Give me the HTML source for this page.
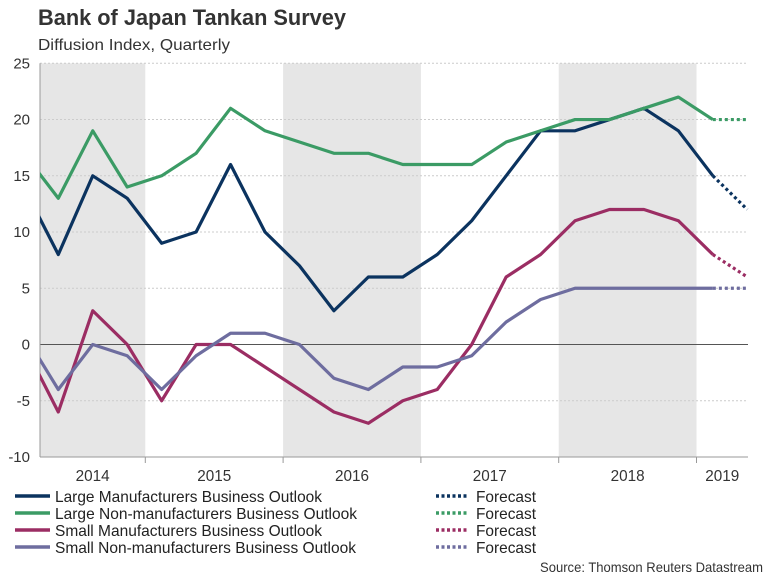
<!DOCTYPE html>
<html><head><meta charset="utf-8"><style>
body{margin:0;background:#fff;font-family:"Liberation Sans",Arial,sans-serif;}
svg text{font-family:"Liberation Sans",Arial,sans-serif;}
</style></head><body>
<svg id="c" width="768" height="576" xmlns="http://www.w3.org/2000/svg">
<text x="38" y="25" font-size="22" font-weight="bold" fill="#333" textLength="308" lengthAdjust="spacingAndGlyphs">Bank of Japan Tankan Survey</text>
<text x="38" y="50" font-size="16" fill="#333" textLength="192" lengthAdjust="spacingAndGlyphs">Diffusion Index, Quarterly</text>
<g id="plot"></g>
<text x="763" y="572" font-size="14" fill="#333" text-anchor="end" textLength="223" lengthAdjust="spacingAndGlyphs">Source: Thomson Reuters Datastream</text>
</svg>
<script>
const years=['2014','2015','2016','2017','2018','2019'];
const yTicks=[25,20,15,10,5,0,-5,-10];
const largeMfg=[14,8,15,13,9,10,16,10,7,3,6,6,8,11,15,19,19,20,21,19,15];
const largeNonMfg=[17,13,19,14,15,17,21,19,18,17,17,16,16,16,18,19,20,20,21,22,20];
const smallMfg=[0,-6,3,0,-5,0,0,-2,-4,-6,-7,-5,-4,0,6,8,11,12,12,11,8];
const smallNonMfg=[1,-4,0,-1,-4,-1,1,1,0,-3,-4,-2,-2,-1,2,4,5,5,5,5,5];
const fcLargeMfg=12, fcLargeNonMfg=20, fcSmallMfg=6, fcSmallNonMfg=5;
const NS='http://www.w3.org/2000/svg';
const L=40,R=748,T=63.3,B=457;
const x=i=>58.3+34.45*(i-1);
const y=v=>T+(25-v)*(B-T)/35;
const yearStart=k=>7.5+137.8*k;
const svg=document.getElementById('plot');
function mk(t,a){const e=document.createElementNS(NS,t);for(const k in a)e.setAttribute(k,a[k]);svg.appendChild(e);return e;}
const cp=mk('clipPath',{id:'cl'});cp.appendChild(document.createElementNS(NS,'rect'));
cp.firstChild.setAttribute('x',L);cp.firstChild.setAttribute('y',T-5);cp.firstChild.setAttribute('width',R-L);cp.firstChild.setAttribute('height',B-T+10);
years.forEach((yr,k)=>{
 const a=Math.max(L,yearStart(k)),b=Math.min(R,yearStart(k+1));
 if(k%2===0){const r=mk('rect',{x:a,y:T,width:b-a,height:B-T,fill:'#e6e6e6'});
 
 }
 const t=mk('text',{x:(a+b)/2,y:481,'font-size':16,fill:'#333','text-anchor':'middle',textLength:34,lengthAdjust:'spacingAndGlyphs'});t.textContent=yr;
 
 
 if(k>0){const tk=mk('line',{x1:yearStart(k),x2:yearStart(k),y1:B,y2:B+6,stroke:'#999'});
 
 }
});
yTicks.forEach(v=>{
 if(v!==0&&v!==-10){const g=mk('line',{x1:L,x2:R,y1:y(v),y2:y(v),stroke:'#ccc','stroke-dasharray':'2,2'});
 
 }
 const t=mk('text',{x:30,y:y(v)+5,'font-size':15,fill:'#333','text-anchor':'end'});t.textContent=v;
 
 
});
const z=mk('line',{x1:L,x2:R,y1:y(0),y2:y(0),stroke:'#555'});


const ax=mk('line',{x1:L,x2:R,y1:B,y2:B,stroke:'#999'});


const ay=mk('line',{x1:L,x2:L,y1:T,y2:B,stroke:'#999'});


const series=[
 [largeMfg,fcLargeMfg,'#0b335f','Large Manufacturers Business Outlook','large-mfg',267],
 [largeNonMfg,fcLargeNonMfg,'#3b9b65','Large Non-manufacturers Business Outlook','large-nonmfg',302],
 [smallMfg,fcSmallMfg,'#9b2d63','Small Manufacturers Business Outlook','small-mfg',267],
 [smallNonMfg,fcSmallNonMfg,'#6e6d9f','Small Non-manufacturers Business Outlook','small-nonmfg',301]];
series.forEach((s,k)=>{
 const d=s[0].map((v,i)=>(i?'L':'M')+x(i)+','+y(v)).join('');
 const p=mk('path',{d:d,fill:'none',stroke:s[2],'stroke-width':3.2,'stroke-linejoin':'round','clip-path':'url(#cl)'});
 
 
 const n=s[0].length-1;
 const f=mk('line',{x1:x(n),y1:y(s[0][n]),x2:x(n+1),y2:y(s[1]),stroke:s[2],'stroke-width':3.2,'stroke-dasharray':'3,3'});
 
 
 const ly=496+17*k;
 const ll=mk('line',{x1:15,x2:50,y1:ly,y2:ly,stroke:s[2],'stroke-width':3.5});
 
 
 const lt=mk('text',{x:55,y:ly+6,'font-size':16,fill:'#222',textLength:s[5],lengthAdjust:'spacingAndGlyphs'});lt.textContent=s[3];
 
 
 const fl=mk('line',{x1:436,x2:468,y1:ly,y2:ly,stroke:s[2],'stroke-width':3.5,'stroke-dasharray':'3,2.5'});
 
 
 const ft=mk('text',{x:476,y:ly+6,'font-size':16,fill:'#222',textLength:60,lengthAdjust:'spacingAndGlyphs'});ft.textContent='Forecast';
 
 
});
</script>
</body></html>
